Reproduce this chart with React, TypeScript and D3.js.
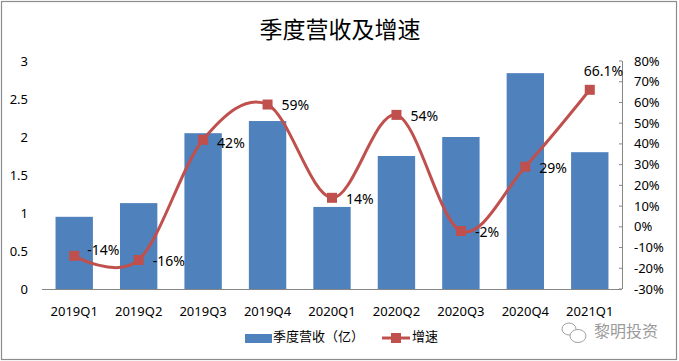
import React from "react";
import * as d3 from "d3";

const categories = ["2019Q1", "2019Q2", "2019Q3", "2019Q4", "2020Q1", "2020Q2", "2020Q3", "2020Q4", "2021Q1"];
const revenue = [0.95, 1.13, 2.05, 2.21, 1.08, 1.75, 2.0, 2.84, 1.8];
const growth = [-14, -16, 42, 59, 14, 54, -2, 29, 66.1];
const growthLabels = ["-14%", "-16%", "42%", "59%", "14%", "54%", "-2%", "29%", "66.1%"];
const leftTicks = [0, 0.5, 1, 1.5, 2, 2.5, 3];
const rightTicks = [-30, -20, -10, 0, 10, 20, 30, 40, 50, 60, 70, 80];

const W = 679;
const H = 361;
const plotL = 42;
const plotR = 622;
const plotT = 61;
const plotB = 289;
const barColor = "#4F81BD";
const lineColor = "#C0504D";
const axisColor = "#868686";
const font = "'Noto Sans', 'Noto Sans CJK SC', sans-serif";

export default function App() {
  const x = d3.scaleBand<string>().domain(categories).range([plotL, plotR]).paddingInner(0.42).paddingOuter(0.21);
  const band = (plotR - plotL) / categories.length;
  const cx = (c: string) => plotL + band * (categories.indexOf(c) + 0.5);
  const barW = band * 0.58;
  const yL = d3.scaleLinear().domain([0, 3]).range([plotB, plotT]);
  const yR = d3.scaleLinear().domain([-30, 80]).range([plotB, plotT]);
  const pts: [number, number][] = categories.map((c, i) => [cx(c), yR(growth[i])]);
  const line = d3.line<[number, number]>().curve(d3.curveCardinal.tension(0))(pts) || "";
  const labelOffset = (i: number): [number, number, string] => {
    if (i === 8) return [-6, -19, "start"];
    if (i === 0) return [13, -6, "start"];
    if (i === 2) return [14, 3, "start"];
    return [14, 1, "start"];
  };

  return (
    <svg width={W} height={H} style={{ display: "block", position: "absolute", left: 0, top: 0 }} fontFamily={font}>
      <rect x={0} y={0} width={W} height={H} fill="#fff" />
      <rect x={1.5} y={1.5} width={W - 4} height={H - 3} fill="none" stroke="#8c8c8c" strokeWidth={1.2} />
      <text x={340} y={38} textAnchor="middle" fontSize={23} fill="#000" fontFamily="'Noto Sans CJK SC', sans-serif">季度营收及增速</text>

      {leftTicks.map((t) => (
        <text key={"l" + t} x={28} y={yL(t)} dy="0.35em" textAnchor="end" fontSize={13} fill="#000">{t}</text>
      ))}
      {rightTicks.map((t) => (
        <g key={"r" + t}>
          <line x1={plotR - 3} x2={plotR} y1={yR(t)} y2={yR(t)} stroke={axisColor} />
          <text x={634} y={yR(t)} dy="0.35em" textAnchor="start" fontSize={13} fill="#000">{t + "%"}</text>
        </g>
      ))}

      {categories.map((c, i) => (
        <rect key={c} x={cx(c) - barW / 2} y={yL(revenue[i])} width={barW} height={plotB - yL(revenue[i])} fill={barColor} />
      ))}

      <line x1={plotL} x2={plotR} y1={plotB + 0.5} y2={plotB + 0.5} stroke={axisColor} />
      <line x1={plotR + 0.5} x2={plotR + 0.5} y1={plotT} y2={plotB} stroke={axisColor} />

      {categories.map((c) => (
        <text key={"x" + c} x={cx(c)} y={311} dy="0.35em" textAnchor="middle" fontSize={13} fill="#000">{c}</text>
      ))}

      <path d={line} fill="none" stroke={lineColor} strokeWidth={3} />
      {pts.map(([px, py], i) => (
        <rect key={"m" + i} x={px - 5} y={py - 5} width={10} height={10} fill={lineColor} />
      ))}
      {pts.map(([px, py], i) => {
        const [dx, dy, anchor] = labelOffset(i);
        return (
          <text key={"t" + i} x={px + dx} y={py + dy} dy="0.35em" textAnchor={anchor} fontSize={14} fill="#000">{growthLabels[i]}</text>
        );
      })}

      <rect x={245} y={334} width={27} height={9} fill={barColor} />
      <text x={273} y={336} dy="0.35em" fontSize={13} fill="#000" fontFamily="'Noto Sans CJK SC', sans-serif">季度营收（亿）</text>
      <line x1={382} x2={410} y1={338} y2={338} stroke={lineColor} strokeWidth={3} />
      <rect x={391} y={333} width={10} height={10} fill={lineColor} />
      <text x={412} y={336} dy="0.35em" fontSize={13} fill="#000" fontFamily="'Noto Sans CJK SC', sans-serif">增速</text>

      <g stroke="#a0a0a0" fill="#fff" strokeWidth={1}>
        <ellipse cx={569} cy={329} rx={7} ry={6} />
        <ellipse cx={578} cy={336} rx={8} ry={6.5} />
      </g>
      <text x={594} y={331} dy="0.35em" fontSize={16} fill="#9a9a9a" fontFamily="'Noto Sans CJK SC', sans-serif">黎明投资</text>
    </svg>
  );
}
